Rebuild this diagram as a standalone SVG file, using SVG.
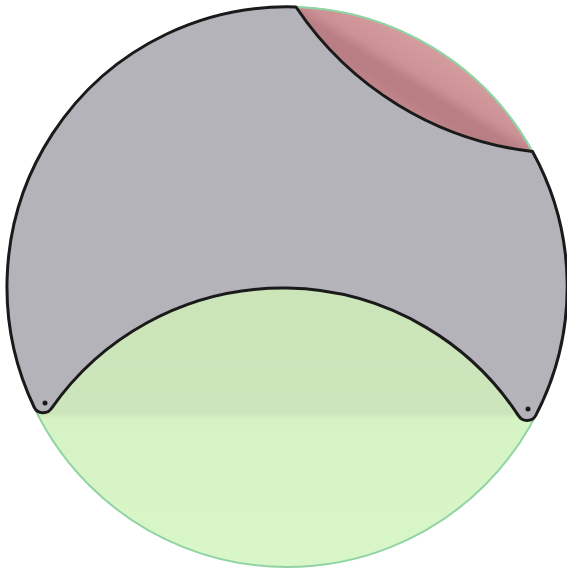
<svg xmlns="http://www.w3.org/2000/svg" width="567" height="570" viewBox="0 0 567 570">
<defs>
<linearGradient id="gGreen" x1="0" y1="0" x2="0" y2="570" gradientUnits="userSpaceOnUse">
<stop offset="0" stop-color="#c9e4b6"/>
<stop offset="0.725" stop-color="#cce5ba"/>
<stop offset="0.735" stop-color="#d6f3c5"/>
<stop offset="1" stop-color="#d9f6c9"/>
</linearGradient>
<linearGradient id="gRed" x1="433" y1="48" x2="398" y2="105" gradientUnits="userSpaceOnUse">
<stop offset="0" stop-color="#d59d9f"/>
<stop offset="0.45" stop-color="#cc9195"/>
<stop offset="0.62" stop-color="#b97f85"/>
<stop offset="0.8" stop-color="#b87e84"/>
<stop offset="1" stop-color="#c1868a"/>
</linearGradient>
<style>
.edge{fill:none;stroke:#1a1a1a;stroke-width:3;stroke-linejoin:round;stroke-linecap:round}
.rim{fill:url(#gGreen);stroke:#90d4a4;stroke-width:2}
.dot{fill:#1a1a1a}
</style>
</defs>
<g id="disk">
<circle class="rim" cx="287" cy="287" r="280"/>
</g>
<g id="red-region">
<path d="M296 7 A280 280 0 0 1 532.5 151.5 A331 331 0 0 1 296 7 Z" fill="url(#gRed)" stroke="#90d4a4" stroke-width="2"/>
</g>
<g id="gray-region">
<path d="M34.3 407.5 A280 280 0 0 1 296 7 A331 331 0 0 0 532.5 151.5 A280 280 0 0 1 535.8 415.4 A10 10 0 0 1 518.4 415.6 A282 282 0 0 0 51.5 408.3 A10 10 0 0 1 34.3 407.5 Z" fill="#b4b3b9"/>
</g>
<g id="connectors">
<path class="edge" d="M34.3 407.5 A280 280 0 0 1 296 7 A331 331 0 0 0 532.5 151.5 A280 280 0 0 1 535.8 415.4 A10 10 0 0 1 518.4 415.6 A282 282 0 0 0 51.5 408.3 A10 10 0 0 1 34.3 407.5 Z"/>
</g>
<g id="cusp-left"><circle class="dot" cx="45" cy="403" r="2.5"/></g>
<g id="cusp-right"><circle class="dot" cx="528" cy="409" r="2.5"/></g>
</svg>
